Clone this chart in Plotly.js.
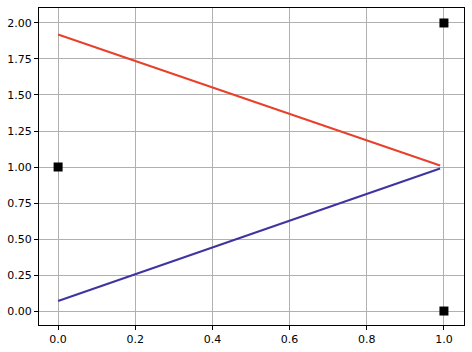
<!DOCTYPE html>
<html><head><meta charset="utf-8">
<script src="https://cdn.plot.ly/plotly-3.0.1.min.js"></script>
<style>html,body{margin:0;padding:0;background:#fff}</style>
</head><body><div id="chart" style="width:472px;height:352px"></div>
<script>
const pointsX = [0, 1, 1];
const pointsY = [1, 2, 0];
const redX = [0, 0.99];
const redY = [1.92, 1.01];
const blueX = [0, 0.99];
const blueY = [0.07, 0.99];
const xTicks = [0, 0.2, 0.4, 0.6, 0.8, 1.0];
const xTickText = ['0.0', '0.2', '0.4', '0.6', '0.8', '1.0'];
const yTicks = [0, 0.25, 0.5, 0.75, 1.0, 1.25, 1.5, 1.75, 2.0];
const yTickText = ['0.00', '0.25', '0.50', '0.75', '1.00', '1.25', '1.50', '1.75', '2.00'];

const data = [
  {x: redX, y: redY, mode: 'lines', line: {color: '#e8412b', width: 2}, hoverinfo: 'skip'},
  {x: blueX, y: blueY, mode: 'lines', line: {color: '#3f33a0', width: 2}, hoverinfo: 'skip'},
  {x: pointsX, y: pointsY, mode: 'markers', marker: {symbol: 'square', color: '#000', size: 9}}
];
const axisCommon = {
  showgrid: true, gridcolor: '#b0b0b0', gridwidth: 1,
  zeroline: false, showline: true, mirror: true, linecolor: '#000', linewidth: 1,
  ticks: 'outside', ticklen: 4, tickcolor: '#000', tickwidth: 1,
  tickfont: {family: 'DejaVu Sans', size: 11, color: '#000'}
};
const layout = {
  width: 472, height: 352,
  margin: {l: 39, r: 8, t: 8, b: 27},
  showlegend: false,
  paper_bgcolor: '#fff', plot_bgcolor: '#fff',
  xaxis: Object.assign({}, axisCommon, {range: [-0.0495, 1.052], tickmode: 'array', tickvals: xTicks, ticktext: xTickText}),
  yaxis: Object.assign({}, axisCommon, {range: [-0.097, 2.104], tickmode: 'array', tickvals: yTicks, ticktext: yTickText})
};
Plotly.newPlot('chart', data, layout, {displayModeBar: false, staticPlot: true});
</script></body></html>
